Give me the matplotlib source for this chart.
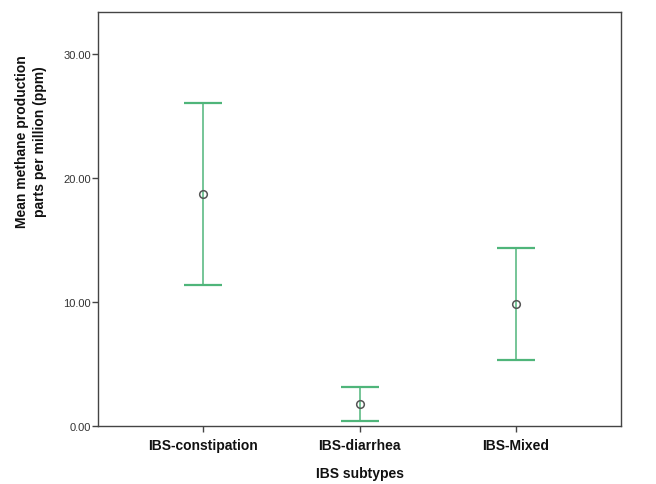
import numpy as np
import matplotlib
matplotlib.use("Agg")
import matplotlib.pyplot as plt

# Data
subtypes = ['IBS-constipation', 'IBS-diarrhea', 'IBS-Mixed']
means = [18.7, 1.77, 9.85]
ci_low = [11.37, 0.38, 5.3]
ci_high = [26.05, 3.15, 14.35]
yticks = [0, 10, 20, 30]

plt.rcParams['font.family'] = ['Liberation Sans', 'DejaVu Sans']

fig = plt.figure(figsize=(6.56, 4.85), dpi=100)
ax = fig.add_axes([98 / 656, 58 / 485, 523 / 656, 414 / 485])

x = np.arange(len(subtypes))
means = np.array(means)
yerr = np.vstack([means - np.array(ci_low), np.array(ci_high) - means])

green = '#4fb57a'
ax.errorbar(x, means, yerr=yerr, fmt='none', ecolor=green, elinewidth=1.1,
            capsize=13.7, capthick=1.6)
ax.plot(x, means, 'o', mfc='none', mec='#555555', ms=5.5, mew=1.1)

ax.set_xlim(-0.67, 2.67)
ax.set_ylim(0, 33.4)
ax.set_xticks(x)
ax.set_xticklabels(subtypes, fontsize=10, fontweight='bold', color='#111111')
ax.set_yticks(yticks)
ax.set_yticklabels(['%.2f' % v for v in yticks], fontsize=8, color='#333333')
ax.tick_params(axis='both', direction='out', length=4, width=1, color='#444444')
ax.tick_params(axis='x', pad=5)
ax.tick_params(axis='y', pad=1)

for s in ax.spines.values():
    s.set_color('#444444')
    s.set_linewidth(1)

fig.text(360 / 656, 1 - 474 / 485, 'IBS subtypes', ha='center', va='center',
         fontsize=10, fontweight='bold', color='#111111')
fig.text(31 / 656, 1 - 142 / 485, 'Mean methane production\nparts per million (ppm)',
         ha='center', va='center', rotation=90, fontsize=10, fontweight='bold',
         color='#111111', linespacing=1.3)

fig.savefig('out.png', dpi=100)
